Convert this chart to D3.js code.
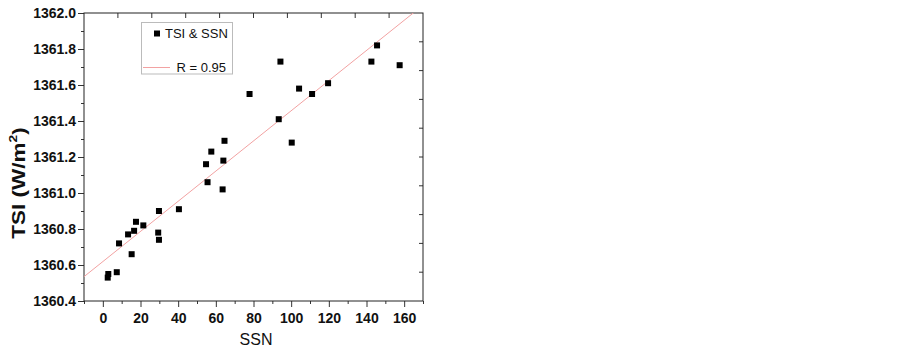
<!DOCTYPE html>
<html>
<head>
<meta charset="utf-8">
<script src="https://cdn.jsdelivr.net/npm/d3@7"></script>
<style>
body { margin: 0; background: #fff; }
text { font-family: "Liberation Sans", Arial, sans-serif; }
</style>
</head>
<body>
<script>
// values
var ssn = [2.9, 2.6, 7.4, 8.6, 15.3, 13.4, 16.6, 17.6, 21.5, 29.8, 29.4, 29.8, 40.4, 55.6, 63.6,
           54.8, 57.6, 64.6, 64.0, 77.9, 93.4, 94.3, 100.3, 104.2, 111.1, 119.6, 142.6, 145.6, 157.6];
var tsi = [1360.55, 1360.53, 1360.56, 1360.72, 1360.66, 1360.77, 1360.79, 1360.84, 1360.82, 1360.90, 1360.78, 1360.74, 1360.91, 1361.06, 1361.02,
           1361.16, 1361.23, 1361.29, 1361.18, 1361.55, 1361.41, 1361.73, 1361.28, 1361.58, 1361.55, 1361.61, 1361.73, 1361.82, 1361.71];
var fitIntercept = 1360.619;
var fitSlope = 0.008378;
var xMajor = [0, 20, 40, 60, 80, 100, 120, 140, 160];
var yMajor = [1360.4, 1360.6, 1360.8, 1361.0, 1361.2, 1361.4, 1361.6, 1361.8, 1362.0];
var seriesName = "TSI & SSN";
var fitName = "R = 0.95";

var data = ssn.map(function(d, i) { return {x: d, y: tsi[i]}; });

const svg = d3.select('body').append('svg')
    .attr('width', 903)
    .attr('height', 354);

var x = d3.scaleLinear().domain([-10, 170]).range([84, 423]);
var y = d3.scaleLinear().domain([1360.4, 1362.0]).range([301, 13]);

// minor ticks
var xMinor = d3.range(-10, 171, 10).filter(d => xMajor.indexOf(d) < 0);
var yMinor = d3.range(1360.5, 1362.0, 0.2);

var gxMinor = svg.append('g').attr('transform', 'translate(0,301)')
    .call(d3.axisBottom(x).tickValues(xMinor).tickSize(3).tickFormat(''));
var gyMinor = svg.append('g').attr('transform', 'translate(84,0)')
    .call(d3.axisLeft(y).tickValues(yMinor).tickSize(3).tickFormat(''));

var gx = svg.append('g').attr('transform', 'translate(0,301)')
    .call(d3.axisBottom(x).tickValues(xMajor).tickSize(6).tickPadding(6));
var gy = svg.append('g').attr('transform', 'translate(84,0)')
    .call(d3.axisLeft(y).tickValues(yMajor).tickSize(6).tickPadding(2).tickFormat(d3.format('.1f')));

[gxMinor, gyMinor, gx, gy].forEach(function(g) {
    g.select('.domain').remove();
    g.selectAll('line').attr('stroke', '#333');
});
gx.selectAll('text').attr('font-size', 14).attr('font-weight', 'bold').attr('fill', '#111')
    .style('font-family', '"Liberation Sans", Arial, sans-serif');
gy.selectAll('text').attr('font-size', 14).attr('font-weight', 'bold').attr('fill', '#111')
    .style('font-family', '"Liberation Sans", Arial, sans-serif');

// top and right mirror ticks (ten even steps)
var xm = d3.scaleLinear().domain([0, 10]).range([84, 423]);
var ym = d3.scaleLinear().domain([0, 10]).range([301, 13]);
svg.append('g').selectAll('line').data(d3.range(1, 10)).enter().append('line')
    .attr('x1', d => xm(d)).attr('x2', d => xm(d))
    .attr('y1', 13).attr('y2', 18)
    .attr('stroke', '#333');
svg.append('g').selectAll('line').data(d3.range(1, 10)).enter().append('line')
    .attr('x1', 423).attr('x2', 419)
    .attr('y1', d => ym(d)).attr('y2', d => ym(d))
    .attr('stroke', '#333');

// frame
svg.append('rect')
    .attr('x', 84).attr('y', 13)
    .attr('width', 339).attr('height', 288)
    .attr('fill', 'none')
    .attr('stroke', '#222');

// fit line
svg.append('clipPath').attr('id', 'clip')
    .append('rect').attr('x', 84).attr('y', 13).attr('width', 339).attr('height', 288);
svg.append('line')
    .attr('clip-path', 'url(#clip)')
    .attr('x1', x(-10)).attr('y1', y(fitIntercept + fitSlope * -10))
    .attr('x2', x(170)).attr('y2', y(fitIntercept + fitSlope * 170))
    .attr('stroke', '#f2a2a2')
    .attr('stroke-width', 1);

// points
svg.selectAll('rect.pt')
    .data(data)
    .enter()
.append('rect')
    .attr('class', 'pt')
    .attr('x', d => x(d.x) - 3)
    .attr('y', d => y(d.y) - 3)
    .attr('width', 6)
    .attr('height', 6)
    .attr('fill', '#000');

// legend
var lg = svg.append('g');
lg.append('rect')
    .attr('x', 141.5).attr('y', 22.5)
    .attr('width', 91).attr('height', 51.5)
    .attr('fill', '#fff')
    .attr('stroke', '#bbb');
lg.append('rect')
    .attr('x', 154).attr('y', 30.5)
    .attr('width', 6).attr('height', 6)
    .attr('fill', '#000');
lg.append('text')
    .attr('x', 165).attr('y', 37.5)
    .attr('font-size', 13)
    .attr('fill', '#111')
    .text(seriesName);
lg.append('line')
    .attr('x1', 143).attr('x2', 170)
    .attr('y1', 67.5).attr('y2', 67.5)
    .attr('stroke', '#f2a2a2');
lg.append('text')
    .attr('x', 176.5).attr('y', 71.5)
    .attr('font-size', 13)
    .attr('fill', '#111')
    .text(fitName);

// axis titles
svg.append('text')
    .attr('x', 256).attr('y', 345)
    .attr('text-anchor', 'middle')
    .attr('font-size', 16)
    .attr('fill', '#111')
    .text('SSN');

var yt = svg.append('text')
    .attr('transform', 'translate(25,183) rotate(-90) scale(1.25,1)')
    .attr('text-anchor', 'middle')
    .attr('font-size', 18)
    .attr('font-weight', 'bold')
    .attr('fill', '#111');
yt.append('tspan').text('TSI (W/m');
yt.append('tspan').attr('font-size', 11).attr('dy', -8).text('2');
yt.append('tspan').attr('dy', 8).text(')');
</script>
</body>
</html>
